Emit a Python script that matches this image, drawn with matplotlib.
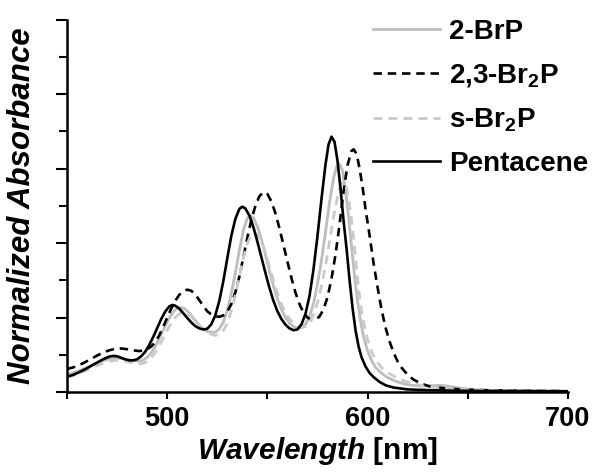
import matplotlib
matplotlib.use("Agg")
import matplotlib.pyplot as plt
import numpy as np

plt.rcParams["font.family"] = ["Liberation Sans", "DejaVu Sans"]
plt.rcParams["font.weight"] = "bold"
plt.rcParams["mathtext.fontset"] = "custom"
plt.rcParams["mathtext.rm"] = "Liberation Sans:bold"
plt.rcParams["mathtext.bf"] = "Liberation Sans:bold"
plt.rcParams["mathtext.bfit"] = "Liberation Sans:bold:italic"
plt.rcParams["mathtext.it"] = "Liberation Sans:bold:italic"

# ---- absorbance spectra (wavelength in nm, normalized absorbance) ----
wl_brp = [450, 453, 456, 459, 462, 465, 468, 471, 474, 477, 480, 483, 486, 488, 490, 492,
          494, 496, 498, 500, 502, 504, 506, 508, 510, 512, 514, 516, 518, 520, 522, 524,
          526, 528, 530, 532, 534, 536, 538, 540, 541.5, 543, 545, 547, 549, 551, 553, 555,
          557, 559, 561, 563, 565, 567, 569, 571, 573, 575, 577, 579, 581, 583, 584.5, 586,
          587.5, 589, 590.5, 592, 593.5, 595, 596.5, 598, 600, 602, 604, 607, 610, 614, 618,
          622, 627, 632, 636, 640, 645, 652, 665, 700]
abs_brp = [0.047, 0.051, 0.057, 0.064, 0.071, 0.078, 0.084, 0.089, 0.091, 0.09, 0.087, 0.084, 0.083, 0.086, 0.093, 0.105,
           0.122, 0.143, 0.166, 0.188, 0.207, 0.221, 0.227, 0.226, 0.218, 0.206, 0.192, 0.18, 0.17, 0.163, 0.16, 0.161,
           0.169, 0.188, 0.22, 0.265, 0.32, 0.38, 0.435, 0.468, 0.474, 0.468, 0.445, 0.41, 0.368, 0.325, 0.285, 0.25,
           0.222, 0.2, 0.185, 0.176, 0.172, 0.173, 0.182, 0.202, 0.238, 0.29, 0.355, 0.43, 0.51, 0.575, 0.605, 0.612,
           0.595, 0.54, 0.47, 0.39, 0.31, 0.245, 0.19, 0.148, 0.11, 0.084, 0.066, 0.05, 0.039, 0.029, 0.022,
           0.018, 0.016, 0.017, 0.018, 0.016, 0.011, 0.007, 0.004, 0.002]

wl_br23 = [450, 453, 456, 459, 462, 465, 468, 471, 474, 477, 480, 483, 486, 489, 492, 494,
           496, 498, 500, 502, 504, 506, 508, 510, 512, 514, 516, 518, 520, 522, 524, 526,
           528, 530, 532, 534, 536, 538, 540, 542, 544, 546, 548, 550, 552, 554, 556, 558,
           560, 562, 564, 566, 568, 570, 572, 574, 576, 578, 580, 582, 584, 586, 588, 590,
           592, 593, 594.5, 596, 597.5, 599, 601, 603, 605, 607, 609, 611, 613, 615, 617,
           620, 623, 627, 631, 640, 655, 700]
abs_br23 = [0.062, 0.066, 0.072, 0.08, 0.089, 0.098, 0.106, 0.112, 0.116, 0.117, 0.115, 0.112, 0.11, 0.112, 0.122, 0.134,
            0.152, 0.175, 0.2, 0.224, 0.245, 0.261, 0.271, 0.275, 0.272, 0.262, 0.247, 0.231, 0.217, 0.208, 0.203, 0.202,
            0.206, 0.216, 0.236, 0.268, 0.31, 0.362, 0.415, 0.463, 0.5, 0.526, 0.537, 0.532, 0.512, 0.48, 0.44, 0.395,
            0.35, 0.306, 0.267, 0.236, 0.213, 0.2, 0.194, 0.194, 0.203, 0.222, 0.255, 0.305, 0.37, 0.45, 0.54, 0.61,
            0.648, 0.652, 0.64, 0.6, 0.55, 0.49, 0.42, 0.345, 0.28, 0.22, 0.172, 0.135, 0.105, 0.082, 0.065,
            0.046, 0.033, 0.022, 0.015, 0.009, 0.005, 0.002]

wl_sbr = [450, 453, 456, 459, 462, 465, 468, 471, 474, 477, 480, 483, 486, 488, 490, 492,
          494, 496, 498, 500, 502, 504, 506, 508, 510, 512, 514, 516, 518, 520, 522, 524,
          526, 528, 530, 532, 534, 536, 538, 540, 542, 543.5, 545, 547, 549, 551, 553, 555,
          557, 559, 561, 563, 565, 567, 569, 571, 573, 575, 577, 579, 581, 583, 585, 586.5,
          588, 589.5, 591, 592.5, 594, 595.7, 597, 598.5, 600, 602, 604, 607, 610, 614, 618,
          623, 628, 635, 645, 660, 700]
abs_sbr = [0.04, 0.044, 0.05, 0.057, 0.064, 0.071, 0.077, 0.082, 0.085, 0.085, 0.082, 0.078, 0.076, 0.077, 0.082, 0.092,
           0.106, 0.124, 0.145, 0.166, 0.185, 0.2, 0.21, 0.214, 0.211, 0.203, 0.192, 0.18, 0.17, 0.161, 0.155, 0.152,
           0.155, 0.165, 0.185, 0.217, 0.26, 0.31, 0.36, 0.4, 0.423, 0.428, 0.423, 0.405, 0.375, 0.338, 0.3, 0.265,
           0.236, 0.213, 0.196, 0.185, 0.177, 0.174, 0.176, 0.187, 0.208, 0.24, 0.285, 0.34, 0.405, 0.47, 0.525, 0.556,
           0.565, 0.548, 0.5, 0.44, 0.36, 0.27, 0.215, 0.176, 0.14, 0.108, 0.086, 0.065, 0.052, 0.04, 0.03,
           0.022, 0.016, 0.012, 0.008, 0.004, 0.002]

wl_pent = [450, 453, 456, 459, 462, 465, 468, 471, 473, 475, 477, 479, 481, 483, 485, 487,
           489, 491, 493, 495, 497, 499, 501, 502.5, 504, 506, 508, 510, 512, 514, 516, 518,
           520, 522, 524, 526, 528, 530, 532, 534, 536, 537.5, 539, 541, 543, 545, 547, 549,
           551, 553, 555, 557, 559, 561, 563, 565, 567, 569, 571, 573, 575, 577, 579, 580.5,
           582, 583.5, 585, 586.5, 588, 589.5, 591, 592.5, 594, 595.5, 597, 599, 601, 603, 606,
           609, 613, 620, 630, 650, 700]
abs_pent = [0.041, 0.046, 0.053, 0.061, 0.07, 0.079, 0.088, 0.095, 0.097, 0.096, 0.092, 0.088, 0.085, 0.085, 0.088, 0.096,
            0.108, 0.126, 0.148, 0.172, 0.196, 0.216, 0.23, 0.234, 0.232, 0.224, 0.212, 0.199, 0.187, 0.177, 0.171, 0.168,
            0.17, 0.182, 0.206, 0.245, 0.298, 0.36, 0.42, 0.465, 0.492, 0.498, 0.493, 0.474, 0.443, 0.404, 0.362, 0.32,
            0.28, 0.245, 0.217, 0.196, 0.181, 0.171, 0.166, 0.168, 0.182, 0.21, 0.258, 0.33, 0.42, 0.52, 0.612, 0.665,
            0.686, 0.672, 0.62, 0.545, 0.46, 0.385, 0.3, 0.225, 0.165, 0.122, 0.093, 0.068, 0.051, 0.04, 0.027,
            0.018, 0.012, 0.007, 0.005, 0.003, 0.002]

labels = ["2-BrP", r"2,3-Br$_\mathbf{2}$P", r"s-Br$_\mathbf{2}$P", "Pentacene"]

fig = plt.figure(figsize=(6, 4.75), dpi=100)
ax = fig.add_axes([0.1117, 0.1747, 0.835, 0.7836])

ax.plot(wl_brp, abs_brp, color="#bdbdbd", lw=2.0, label=labels[0])
ax.plot(wl_br23, abs_br23, color="black", lw=1.9, dashes=(3.2, 2.2), label=labels[1])
ax.plot(wl_sbr, abs_sbr, color="#cacaca", lw=2.0, dashes=(3.2, 2.2), label=labels[2])
ax.plot(wl_pent, abs_pent, color="black", lw=1.9, label=labels[3])

ax.set_xlim(450, 700)
ax.set_ylim(0, 1.0)

ax.set_xticks([500, 600, 700])
ax.set_xticks([450, 550, 650], minor=True)
ax.set_yticks(np.arange(0, 1.01, 0.2))
ax.set_yticks(np.arange(0.1, 1.0, 0.2), minor=True)
ax.set_yticklabels([])
ax.tick_params(axis="x", which="both", direction="out", length=5, width=1.5, labelsize=19.5, pad=5)
ax.tick_params(axis="y", which="major", direction="out", length=8, width=1.5)
ax.tick_params(axis="y", which="minor", direction="out", length=6, width=1.5)

for s in ["top", "right"]:
    ax.spines[s].set_visible(False)
for s in ["left", "bottom"]:
    ax.spines[s].set_linewidth(1.8)

ax.set_xlabel(r"$\mathbfit{Wavelength}$ [nm]", fontsize=21.5, fontweight="bold", labelpad=2)
ax.set_ylabel("Normalized Absorbance", fontsize=22.5, fontweight="bold", style="italic", labelpad=10)

leg = ax.legend(loc="upper right", bbox_to_anchor=(1.08, 1.055), frameon=False, fontsize=20,
                handlelength=2.4, handletextpad=0.35, labelspacing=0.62, borderpad=0.2)

fig.savefig("out.png", dpi=100)
